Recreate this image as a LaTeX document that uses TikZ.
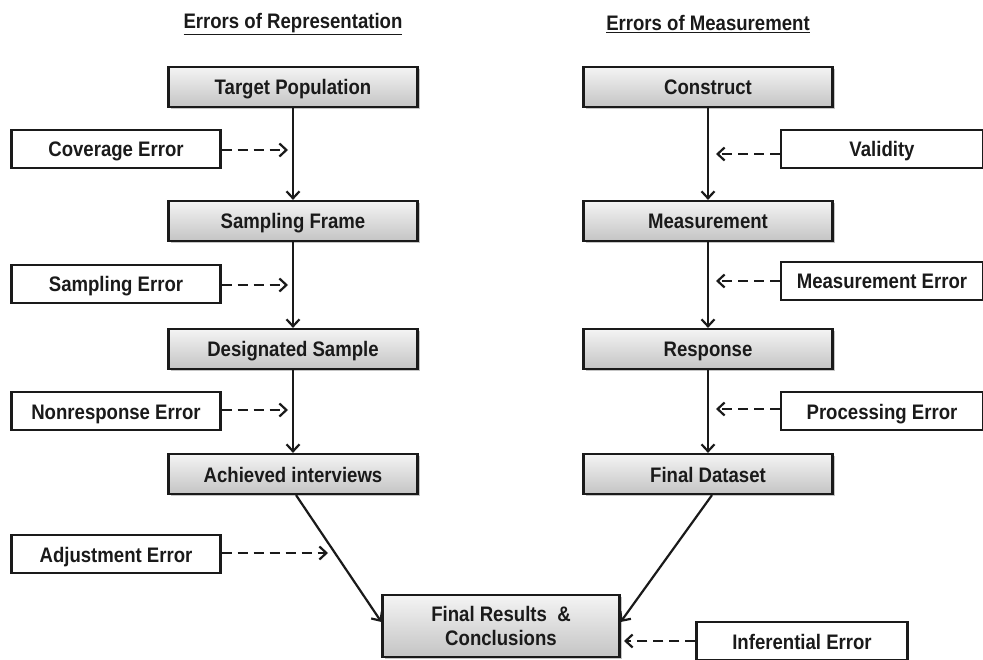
\documentclass[tikz,border=0pt]{standalone}
\usepackage{fontspec}
\setmainfont[FakeStretch=0.885]{Liberation Sans}
\usepackage{xcolor}
\usetikzlibrary{arrows.meta,shadows}
\definecolor{boxtop}{HTML}{F4F4F4}
\definecolor{boxbot}{HTML}{C4C4C4}
\definecolor{ink}{HTML}{1A1A1A}
\tikzset{
  stage/.style={draw=ink, line width=2.2pt, top color=boxtop, bottom color=boxbot,
    minimum width=249pt, minimum height=40pt, inner sep=0pt,
    text height=16pt, text depth=0pt,
    drop shadow={shadow xshift=2pt, shadow yshift=-2pt, fill=black!45}},
  errbox/.style={draw=ink, line width=2.2pt, fill=white,
    minimum width=209pt, minimum height=38pt, inner sep=0pt,
    text height=16pt, text depth=0pt},
  flow/.style={draw=ink, line width=2.2pt, -{Straight Barb[length=7pt,width=13pt,line width=2.2pt]}},
  errflow/.style={flow, dash pattern=on 10pt off 6pt},
  heading/.style={text=ink},
  every node/.style={text=ink, font=\fontsize{21}{24}\selectfont\bfseries}
}
\begin{document}
\begin{tikzpicture}[x=1pt,y=-1pt]
  \useasboundingbox (0,0) rectangle (983,660);

  % headings
  \node[heading] (reptitle) at (293,24) {\underline{Errors of Representation}};
  \node[heading] (meatitle) at (708,24) {\underline{Errors of Measurement}};

  % representation side
  \node[stage] (target) at (293,87) {Target Population};
  \node[stage] (frame) at (293,221) {Sampling Frame};
  \node[stage] (design) at (293,349) {Designated Sample};
  \node[stage] (achieved) at (293,474) {Achieved interviews};

  % measurement side
  \node[stage] (construct) at (708,87) {Construct};
  \node[stage] (measure) at (708,221) {Measurement};
  \node[stage] (response) at (708,349) {Response};
  \node[stage] (dataset) at (708,474) {Final Dataset};

  \node[stage, minimum width=237pt, minimum height=62pt, text height=, text depth=, align=center] (final) at (501,626)
    {Final Results~~\&\\Conclusions};

  % error boxes
  \node[errbox] (coverage) at (116,149) {Coverage Error};
  \node[errbox] (sampling) at (116,284) {Sampling Error};
  \node[errbox] (nonresp) at (116,411) {Nonresponse Error};
  \node[errbox] (adjust) at (116,554) {Adjustment Error};
  \node[errbox, minimum width=202pt] (validity) at (882,149) {Validity};
  \node[errbox, minimum width=202pt] (measerr) at (882,281) {Measurement Error};
  \node[errbox, minimum width=202pt] (process) at (882,411) {Processing Error};
  \node[errbox, minimum width=211pt] (infer) at (802,641) {Inferential Error};

  % main flow
  \draw[flow] (target) -- (frame);
  \draw[flow] (frame) -- (design);
  \draw[flow] (design) -- (achieved);
  \draw[flow] (construct) -- (measure);
  \draw[flow] (measure) -- (response);
  \draw[flow] (response) -- (dataset);
  \draw[flow] (achieved.south) ++(3,0) coordinate (achout) -- (final.west |- 0,622) coordinate (finl);
  \draw[flow] (dataset.south) ++(4,0) coordinate (dsout) -- (final.east |- 0,622) coordinate (finr);

  % error hits
  \coordinate (covhit) at (288,150);
  \coordinate (samhit) at (288,285);
  \coordinate (nonhit) at (288,410);
  \coordinate (adjhit) at (328,553);
  \coordinate (valhit) at (716,154);
  \coordinate (meahit) at (716,281);
  \coordinate (prohit) at (716,409);
  \coordinate (infhit) at (624,641);

  \draw[errflow] (coverage.east |- covhit) -- (covhit);
  \draw[errflow] (sampling.east |- samhit) -- (samhit);
  \draw[errflow] (nonresp.east |- nonhit) -- (nonhit);
  \draw[errflow] (adjust.east |- adjhit) -- (adjhit);
  \draw[errflow] (validity.west |- valhit) -- (valhit);
  \draw[errflow] (measerr.west |- meahit) -- (meahit);
  \draw[errflow] (process.west |- prohit) -- (prohit);
  \draw[errflow] (infer.west |- infhit) -- (infhit);
\end{tikzpicture}
\end{document}
